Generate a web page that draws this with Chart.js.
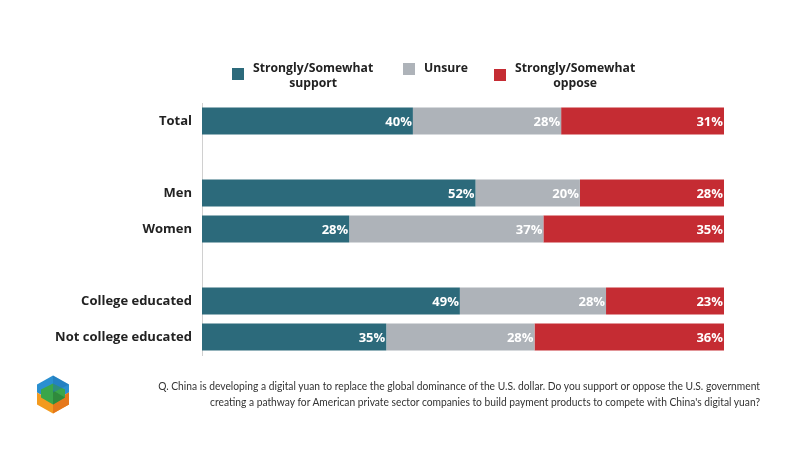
<!DOCTYPE html>
<html>
<head>
<meta charset="utf-8">
<script src="https://cdn.jsdelivr.net/npm/chart.js@4.4.0/dist/chart.umd.min.js"></script>
<style>
  body { margin: 0; background: #fff; }
  #wrap { position: relative; width: 800px; height: 450px; overflow: hidden; }
  #chart { position: absolute; left: 0; top: 0; }
  .legend { position: absolute; top: 60px; left: 0; width: 800px; font-family: "Open Sans", sans-serif; font-weight: 700; font-size: 12.2px; color: #222; }
  .legend .item { position: absolute; display: flex; align-items: flex-start; }
  .legend .box { width: 12px; height: 12px; margin-right: 9px; }
  .legend .txt { text-align: center; line-height: 15px; }
  .note { position: absolute; right: 40px; top: 378px; width: 700px; text-align: right; white-space: nowrap; font-family: Lato, sans-serif; font-size: 11.4px; line-height: 16px; color: #333; transform: scaleX(0.9); transform-origin: right top; }
  .logo { position: absolute; left: 36px; top: 375px; }
</style>
</head>
<body>
<div id="wrap">
  <canvas id="chart" width="800" height="450"></canvas>
  <div class="legend" id="legend"></div>
  <svg class="logo" width="34" height="39" viewBox="0 0 34 38">
    <polygon points="17,0 33,9 33,17 17,26 1,17 1,9" fill="#2a8fd0"/>
    <polygon points="1,17 17,26 33,17 33,29 17,38 1,29" fill="#f39a1f"/>
    <polygon points="17,26 33,17 33,29 17,38" fill="#e5781b"/>
    <polygon points="17,8 29,14 29,22 17,29 5,22 5,14" fill="#3aa64a"/>
    <polygon points="17,15 29,22 17,29" fill="#2f8a3c"/>
    <polygon points="17,0 33,9 17,17" fill="#1d74b4" opacity="0.5"/>
  </svg>
  <div class="note">Q. China is developing a digital yuan to replace the global dominance of the U.S. dollar. Do you support or oppose the U.S. government<br>creating a pathway for American private sector companies to build payment products to compete with China's digital yuan?</div>
</div>
<script>
// Categories (empty strings leave a gap between groups)
const categories = ['Total', '', 'Men', 'Women', '', 'College educated', 'Not college educated'];

// Shares in percent
const supportValues = [40.4, null, 52.4, 28.2, null, 49.4, 35.3];
const unsureValues = [28.4, null, 20.0, 37.2, null, 28.0, 28.4];
const opposeValues = [31.2, null, 27.6, 34.6, null, 22.6, 36.3];

const seriesNames = [['Strongly/Somewhat', 'support'], ['Unsure'], ['Strongly/Somewhat', 'oppose']];
const seriesColors = ['#2c6a7b', '#aeb3b9', '#c52c33'];

// Legend built from the series names
const legendPos = [{ left: 232, top: 8 }, { left: 403, top: 3 }, { left: 494, top: 9 }];
const legendEl = document.getElementById('legend');
seriesNames.forEach((name, i) => {
    const item = document.createElement('div');
    item.className = 'item';
    item.style.left = legendPos[i].left + 'px';
    item.innerHTML = `<div class="box" style="background:${seriesColors[i]};margin-top:${legendPos[i].top}px"></div>
        <div class="txt">${name.join('<br>')}</div>`;
    legendEl.appendChild(item);
});

// Draw percentage labels at the right end of each segment
const barLabels = {
    id: 'barLabels',
    afterDatasetsDraw(chart) {
        const ctx = chart.ctx;
        ctx.save();
        ctx.font = '700 13px "Open Sans", sans-serif';
        ctx.fillStyle = '#fff';
        ctx.textAlign = 'right';
        ctx.textBaseline = 'middle';
        chart.data.datasets.forEach((ds, di) => {
            chart.getDatasetMeta(di).data.forEach((bar, i) => {
                const v = ds.data[i];
                if (v == null) return;
                ctx.fillText(Math.round(v) + '%', bar.x - 1, bar.y + 1);
            });
        });
        ctx.restore();
    }
};

new Chart(document.getElementById('chart').getContext('2d'), {
    type: 'bar',
    data: {
        labels: categories,
        datasets: [
            { label: seriesNames[0].join(' '), data: supportValues, backgroundColor: seriesColors[0] },
            { label: seriesNames[1].join(' '), data: unsureValues, backgroundColor: seriesColors[1] },
            { label: seriesNames[2].join(' '), data: opposeValues, backgroundColor: seriesColors[2] }
        ]
    },
    options: {
        indexAxis: 'y',
        responsive: false,
        animation: false,
        layout: { padding: { left: 0, right: 76, top: 103, bottom: 95 } },
        datasets: { bar: { categoryPercentage: 1, barPercentage: 0.75 } },
        plugins: { legend: { display: false }, tooltip: { enabled: false } },
        scales: {
            x: { display: false, stacked: true, min: 0, max: 100 },
            y: {
                stacked: true,
                grid: { display: false },
                border: { display: true, color: '#d0d0d0', width: 1 },
                ticks: {
                    padding: 2,
                    color: '#222',
                    font: { family: '"Open Sans", sans-serif', size: 13, weight: '700' }
                },
                afterFit(scale) { scale.width = 202; }
            }
        }
    },
    plugins: [barLabels]
});
</script>
</body>
</html>
